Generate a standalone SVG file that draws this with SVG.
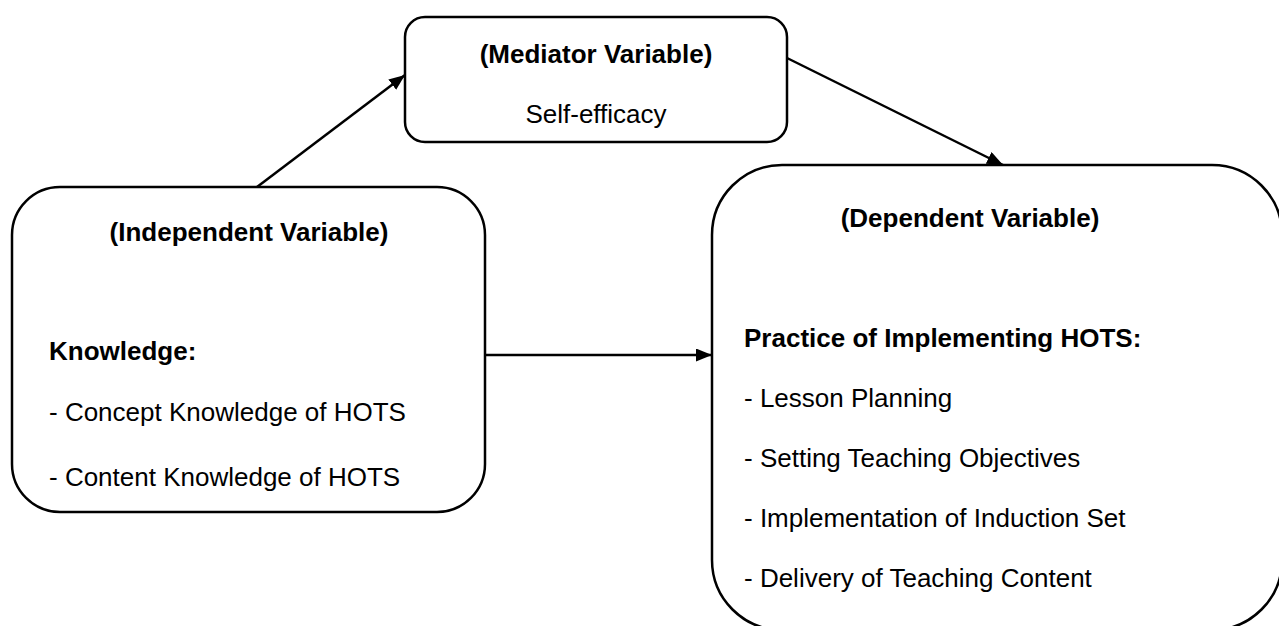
<svg xmlns="http://www.w3.org/2000/svg" width="1279" height="626" viewBox="0 0 1279 626">
  <style>
    .box { fill: #ffffff; stroke: #000000; stroke-width: 2.5; }
    .conn { fill: none; stroke: #000000; stroke-width: 2.5; }
    text { font-family: "Liberation Sans", Arial, sans-serif; font-size: 26px; fill: #000000; }
    .b { font-weight: bold; }
    .c { text-anchor: middle; }
  </style>
  <defs>
    <marker id="arrow" viewBox="0 0 16 13" refX="16" refY="6.5" markerWidth="16" markerHeight="13" markerUnits="userSpaceOnUse" orient="auto">
      <path d="M0,0 L16,6.5 L0,13 Z" fill="#000000"/>
    </marker>
  </defs>
  <rect width="1279" height="626" fill="#ffffff"/>
  <g id="connectors">
    <line class="conn" x1="257" y1="187" x2="405" y2="75" marker-end="url(#arrow)"/>
    <line class="conn" x1="787" y1="58" x2="1003" y2="165" marker-end="url(#arrow)"/>
    <line class="conn" x1="485" y1="355" x2="712" y2="355" marker-end="url(#arrow)"/>
  </g>
  <g id="mediator">
    <rect class="box" x="405" y="17" width="382" height="125" rx="20" ry="20"/>
    <text class="b c" x="596" y="63">(Mediator Variable)</text>
    <text class="c" x="596" y="123">Self-efficacy</text>
  </g>
  <g id="independent">
    <rect class="box" x="12" y="187" width="473" height="325" rx="48" ry="48"/>
    <text class="b c" x="249" y="241">(Independent Variable)</text>
    <text class="b" x="49" y="360">Knowledge:</text>
    <text x="49" y="421">- Concept Knowledge of HOTS</text>
    <text x="49" y="486">- Content Knowledge of HOTS</text>
  </g>
  <g id="dependent">
    <rect class="box" x="712" y="165" width="570" height="465" rx="70" ry="70"/>
    <text class="b c" x="970" y="227">(Dependent Variable)</text>
    <text class="b" x="744" y="347">Practice of Implementing HOTS:</text>
    <text x="744" y="407">- Lesson Planning</text>
    <text x="744" y="467">- Setting Teaching Objectives</text>
    <text x="744" y="527">- Implementation of Induction Set</text>
    <text x="744" y="587">- Delivery of Teaching Content</text>
  </g>
</svg>
